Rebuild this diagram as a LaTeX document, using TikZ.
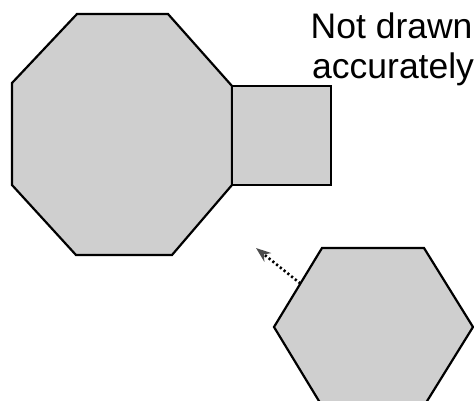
\documentclass[tikz,border=0pt]{standalone}
\usepackage{fontspec}
\setmainfont{Liberation Sans}
\usetikzlibrary{arrows.meta,calc}
\begin{document}
\begin{tikzpicture}[x=1pt,y=-1pt,
  shapeline/.style={draw=black,line width=2.2pt,fill=black!19,line join=miter},
  label/.style={anchor=base west,inner sep=0pt,font=\fontsize{35.5}{40}\selectfont},
  dotarrow/.style={draw=black,line width=2.6pt,dash pattern=on 2.2pt off 2.6pt,
    -{Stealth[length=15pt,width=11pt,color=black!70]}}]
\useasboundingbox (0,0) rectangle (474,401);
% octagon
\draw[shapeline] (77,14) -- (168,14) -- (232,86) -- (232,185) -- (172,255)
  -- (76,255) -- (12,185) -- (12,83) -- cycle;
% square
\draw[shapeline] (232,86) rectangle (331,185);
% hexagon
\coordinate (hexL) at (274,327);
\coordinate (hexTL) at (322,248);
\draw[shapeline] (hexTL) -- (424,248) -- (473,327) -- (424,406) -- (322,406)
  -- (hexL) -- cycle;
% arrow
\coordinate (tail) at ($(hexL)!0.55!(hexTL)$);
\coordinate (tip) at (256,248);
\draw[dotarrow] (tail) -- (tip);
% text
\node[label] (t1) at (310.5,39) {Not drawn};
\node[label] (t2) at (312,79) {accurately};
\end{tikzpicture}
\end{document}
